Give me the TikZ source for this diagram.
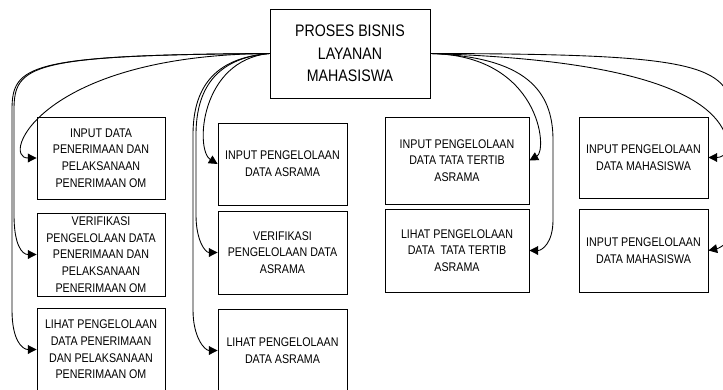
\documentclass[tikz,border=0pt]{standalone}
\usepackage{fontspec}
\setmainfont{Liberation Sans}[FakeStretch=0.85]
\usepackage{tikz}
\usetikzlibrary{arrows.meta}

\begin{document}
\begin{tikzpicture}[x = 0.02cm, y = -0.02cm,
	kotak/.style = {draw, align = center, inner sep = 1pt, line width = 0.5pt, font = \fontsize{7.15}{9.5}\selectfont},
	panah/.style = {-{Triangle[length = 5pt, width = 5pt]}, line width = 0.5pt}]
	\useasboundingbox (0, 0) rectangle (723, 389);
	\clip (0, 0) rectangle (723, 389);
	\node[kotak, minimum width = 3.2cm, minimum height = 1.78cm, font = \fontsize{9.5}{12.8}\selectfont] (proses) at (350, 53.5) {PROSES BISNIS\\LAYANAN\\MAHASISWA};
	% kolom penerimaan OM
	\node[kotak, minimum width = 2.56cm, minimum height = 1.64cm] (inputom) at (101, 158) {INPUT DATA\\PENERIMAAN DAN\\PELAKSANAAN\\PENERIMAAN OM};
	\node[kotak, minimum width = 2.56cm, minimum height = 1.66cm] (verifom) at (101, 254.5) {VERIFIKASI\\PENGELOLAAN DATA\\PENERIMAAN DAN\\PELAKSANAAN\\PENERIMAAN OM};
	\node[kotak, minimum width = 2.56cm, minimum height = 1.66cm] (lihatom) at (101, 349.5) {LIHAT PENGELOLAAN\\DATA PENERIMAAN\\DAN PELAKSANAAN\\PENERIMAAN OM};
	% kolom asrama
	\node[kotak, minimum width = 2.58cm, minimum height = 1.64cm] (inputasrama) at (282.5, 164) {INPUT PENGELOLAAN\\DATA ASRAMA};
	\node[kotak, minimum width = 2.58cm, minimum height = 1.66cm] (verifasrama) at (282.5, 252.5) {VERIFIKASI\\PENGELOLAAN DATA\\ASRAMA};
	\node[kotak, minimum width = 2.58cm, minimum height = 1.66cm] (lihatasrama) at (282.5, 350.5) {LIHAT PENGELOLAAN\\DATA ASRAMA};
	% kolom tata tertib
	\node[kotak, minimum width = 2.88cm, minimum height = 1.74cm] (inputtatib) at (457, 160.5) {INPUT PENGELOLAAN\\DATA TATA TERTIB\\ASRAMA};
	\node[kotak, minimum width = 2.88cm, minimum height = 1.66cm] (lihattatib) at (457, 250.5) {LIHAT PENGELOLAAN\\DATA \ TATA TERTIB\\ASRAMA};
	% kolom mahasiswa
	\node[kotak, minimum width = 2.58cm, minimum height = 1.62cm] (inputmhs) at (643.5, 157.5) {INPUT PENGELOLAAN\\DATA MAHASISWA};
	\node[kotak, minimum width = 2.58cm, minimum height = 1.66cm] (inputmhsb) at (643.5, 250.5) {INPUT PENGELOLAAN\\DATA MAHASISWA};

	\draw[panah] (proses.west) .. controls (40, 55) and (0, 158) .. (inputom.west);
	\draw[panah] (proses.west) .. controls (30, 55) and (14, 65) .. (14, 110) -- (14, 215) .. controls (14, 245) and (22, 254.5) .. (verifom.west);
	\draw[panah] (proses.west) .. controls (28, 55) and (12, 65) .. (12, 110) -- (12, 310) .. controls (12, 340) and (22, 349.5) .. (lihatom.west);
	\draw[panah] (proses.west) .. controls (200, 60) and (195, 150) .. (inputasrama.west);
	\draw[panah] (proses.west) .. controls (215, 58) and (196, 90) .. (196, 135) -- (196, 215) .. controls (196, 240) and (205, 252.5) .. (verifasrama.west);
	\draw[panah] (proses.west) .. controls (212, 58) and (193, 90) .. (193, 135) -- (193, 310) .. controls (193, 338) and (205, 350.5) .. (lihatasrama.west);
	\draw[panah] (proses.east) .. controls (540, 55) and (548, 150) .. (inputtatib.east);
	\draw[panah] (proses.east) .. controls (525, 57) and (553, 90) .. (553, 140) -- (553, 220) .. controls (553, 243) and (542, 250.5) .. (lihattatib.east);
	\draw[panah] (proses.east) .. controls (650, 60) and (722, 100) .. (728, 145) .. controls (729, 155) and (720, 157.5) .. (inputmhs.east);
	\draw[panah] (proses.east) .. controls (680, 54) and (728, 62) .. (732, 110) -- (732, 225) .. controls (732, 242) and (720, 248) .. (inputmhsb.east);
\end{tikzpicture}
\end{document}
